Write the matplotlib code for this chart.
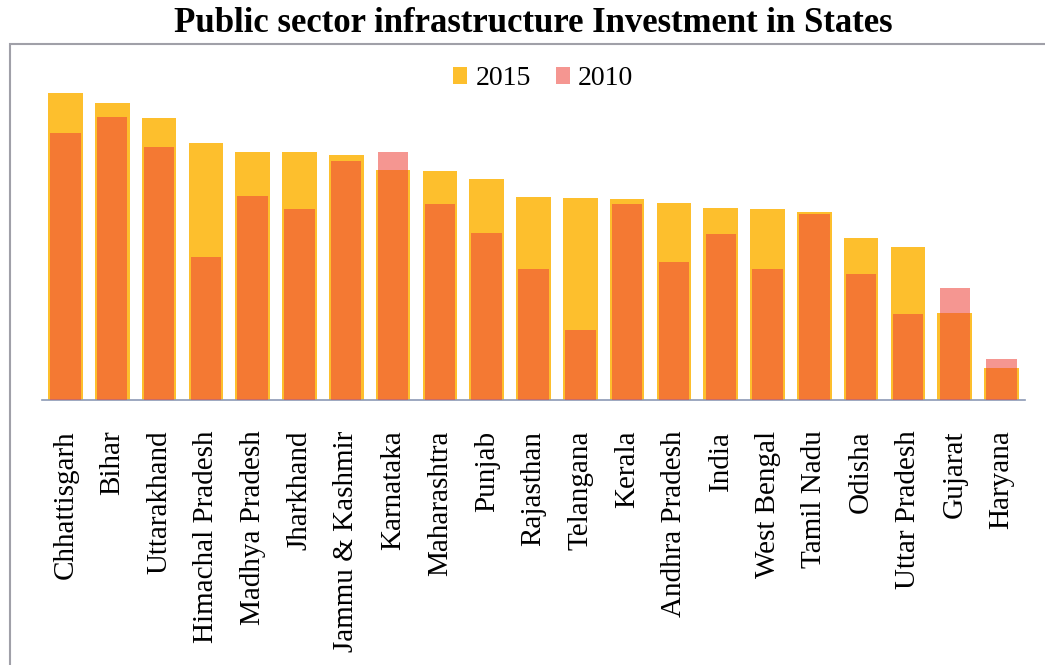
import matplotlib.pyplot as plt
from matplotlib.patches import Rectangle
import numpy as np

# States ordered by 2015 investment
states = ["Chhattisgarh", "Bihar", "Uttarakhand", "Himachal Pradesh", "Madhya Pradesh",
          "Jharkhand", "Jammu & Kashmir", "Karnataka", "Maharashtra", "Punjab",
          "Rajasthan", "Telangana", "Kerala", "Andhra Pradesh", "India",
          "West Bengal", "Tamil Nadu", "Odisha", "Uttar Pradesh", "Gujarat", "Haryana"]
inv_2015 = [307, 297, 282, 257, 248, 248, 245, 230, 229, 221, 203,
            202, 201, 197, 192, 191, 188, 162, 153, 87, 32]
inv_2010 = [267, 283, 253, 143, 204, 191, 239, 248, 196, 167, 131,
            70, 196, 138, 166, 131, 186, 126, 86, 112, 41]

plt.rcParams['font.family'] = ['Liberation Serif', 'DejaVu Serif']

fig = plt.figure(figsize=(10.45, 6.65), dpi=100)
ax = fig.add_axes([42 / 1045, 265 / 665, 983 / 1045, 340 / 665])

x = np.arange(len(states))
ax.bar(x, inv_2015, width=0.74, color='#FDBF2D', label='2015', zorder=2)
ax.bar(x, inv_2010, width=0.65, color='#ED4138', alpha=0.55, label='2010', zorder=3)

ax.set_xlim(-0.5, len(states) - 0.5)
ax.set_ylim(0, 340)
ax.set_xticks(x)
ax.set_xticklabels(states, rotation=90, fontsize=21)
ax.tick_params(axis='x', length=0, pad=22)
ax.set_yticks([])
for side in ['left', 'top', 'right']:
    ax.spines[side].set_visible(False)
ax.spines['bottom'].set_color('#8C9AB5')
ax.spines['bottom'].set_linewidth(1.2)

ax.legend(loc='upper center', bbox_to_anchor=(0.51, 1.055), ncol=2, frameon=False,
          fontsize=20, handlelength=0.5, handleheight=0.6, handletextpad=0.3,
          columnspacing=0.9)

# outer chart border (right and bottom run off the page)
fig.patches.append(Rectangle((10 / 1045, -0.1), 1.2, 1.1 - 44 / 665,
                             transform=fig.transFigure, fill=False,
                             edgecolor='#A0A0A8', linewidth=1.5))

fig.text(0.51, 1 - 23 / 665, "Public sector infrastructure Investment in States",
         ha='center', va='center', fontsize=25, fontweight='bold')

fig.savefig('out.png', dpi=100)
